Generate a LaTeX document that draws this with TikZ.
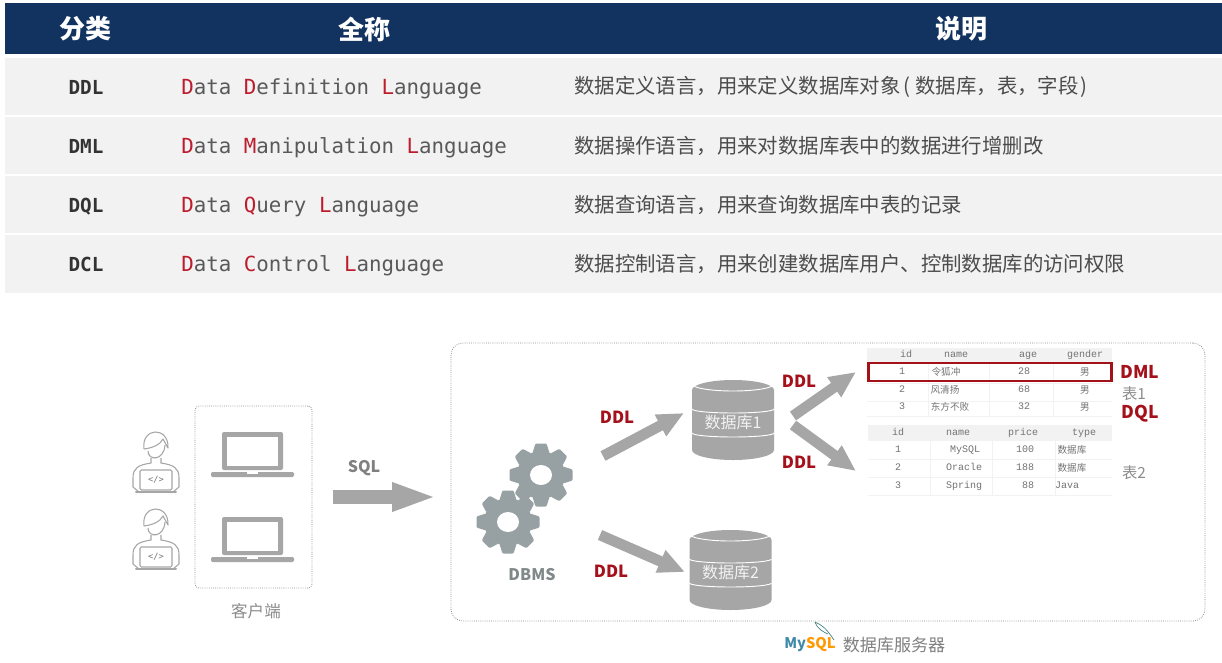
\documentclass[tikz,border=0pt]{standalone}
\usepackage{fontspec}
\usepackage{xcolor}
\usetikzlibrary{arrows.meta}
\setmainfont{Noto Sans CJK SC}
\newfontfamily\codefont{DejaVu Sans Mono}
\newfontfamily\tablefont{Liberation Mono}
\newcommand{\fsz}[1]{\fontsize{#1}{#1}\selectfont}
\newcommand{\rd}[1]{\textcolor{codered}{#1}}
\definecolor{navyhead}{HTML}{12335F}
\definecolor{rowgray}{HTML}{F2F2F2}
\definecolor{redtxt}{HTML}{A5111B}
\definecolor{codered}{HTML}{BC1C2C}
\definecolor{iconcol}{HTML}{A6A6A6}
\definecolor{gearcol}{HTML}{97A0A3}
\definecolor{dotcol}{HTML}{8C8C8C}
\tikzset{
  headtxt/.style={text=white,font=\fsz{19.5}\bfseries},
  codetxt/.style={anchor=base west,text=black!65,font=\fsz{15.6}\codefont},
  kindtxt/.style={anchor=base,text=black!80,font=\fsz{14.5}\codefont\bfseries},
  desctxt/.style={anchor=west,text=black!70,font=\fsz{15.3}},
  redlabel/.style={text=redtxt,font=\fsz{12.5}\bfseries},
  graytxt/.style={text=black!45,font=\fsz{12.4}},
  tcell/.style={text=black!55,font=\fsz{7.5}\tablefont,text height=5pt,text depth=1.5pt},
  tcjk/.style={text=black!55,font=\fsz{7.2},text height=5.5pt,text depth=1pt},
  dotbox/.style={draw=dotcol,densely dotted,line width=.6pt},
  bigarrow/.style={draw=iconcol,line width=8pt,-{Triangle[length=20pt,width=17pt]}},
  laptop/.pic={
    \fill[iconcol,rounded corners=1.5pt] (-31,-20) rectangle (30,18);
    \fill[white] (-26,-15) rectangle (25,14);
    \fill[iconcol,rounded corners=1pt] (-42,20) rectangle (41,25);
    \fill[white] (-6,20) rectangle (5,21.5);
  },
  person/.pic={
    \draw[iconcol,line width=.8pt,line join=round]
      (-12,3) .. controls (-15,-19) and (13,-20) .. (12,2) -- (7,-7) .. controls (4,-1) and (-4,2) .. (-12,3);
    \draw[iconcol,line width=.8pt] (-8,5) .. controls (-8,15) and (8,15) .. (9,-1);
    \draw[iconcol,line width=.8pt] (-5,12) -- (-5,17) .. controls (-18,19) and (-23,22) .. (-23,32) -- (-23,41) -- (-17,46);
    \draw[iconcol,line width=.8pt] (5,12) -- (5,17) .. controls (18,19) and (23,22) .. (23,32) -- (23,41) -- (17,46);
    \draw[iconcol,line width=.8pt,fill=white,rounded corners=1pt] (-16,24) rectangle (16,44);
    \draw[iconcol,line width=1.5pt,line cap=round] (-20,46) -- (20,46);
    \node[text=black!55,font=\fsz{6.5}\codefont] (-devcode) at (0,34) {</>};
  },
  gearicon/.pic={
    \fill[gearcol] (0,0) circle (24);
    \foreach \a in {0,45,...,315}
      \fill[gearcol,rotate=\a,rounded corners=.8pt] (-5.5,-31.5) -- (5.5,-31.5) -- (8.5,-22) -- (-8.5,-22) -- cycle;
    \fill[white] (0,0) ellipse (11 and 10);
  },
  dbcyl/.pic={
    \fill[iconcol] (-41,-30) -- (-41,30) arc[start angle=180,end angle=360,x radius=41,y radius=-10] -- (41,-30) arc[start angle=0,end angle=180,x radius=41,y radius=-10] -- cycle;
    \draw[white,line width=.7pt] (-41,-36) arc[start angle=180,end angle=360,x radius=41,y radius=-7];
    \foreach \yy in {-11,13}
      \draw[white,line width=.7pt] (-41,\yy) arc[start angle=180,end angle=360,x radius=41,y radius=-4];
    \node[text=white!90!gray,font=\fsz{12}] (-name) at (0,2) {#1};
  },
}
\begin{document}
\begin{tikzpicture}[x=.75pt,y=-.75pt,every node/.style={inner sep=0pt}]
  \useasboundingbox (0,0) rectangle (1222,662);
  \fill[white] (0,0) rectangle (1222,662);

  % table on top
  \fill[navyhead] (5,3) rectangle (1222,54);
  \node[headtxt] (kindhead) at (86,29) {分类};
  \node[headtxt] (namehead) at (364,29) {全称};
  \node[headtxt] (deschead) at (961,29) {说明};
  \foreach \top/\bot in {58/115,117/174,176/233,235/293}
    \fill[rowgray] (5,\top) rectangle (1222,\bot);

  \node[kindtxt] (ddl) at (86,94) {DDL};
  \node[kindtxt] (dml) at (86,153) {DML};
  \node[kindtxt] (dql) at (86,212) {DQL};
  \node[kindtxt] (dcl) at (86,271) {DCL};
  \node[codetxt] (ddlname) at (181,94) {\rd{D}ata \rd{D}efinition \rd{L}anguage};
  \node[codetxt] (dmlname) at (181,153) {\rd{D}ata \rd{M}anipulation \rd{L}anguage};
  \node[codetxt] (dqlname) at (181,212) {\rd{D}ata \rd{Q}uery \rd{L}anguage};
  \node[codetxt] (dclname) at (181,271) {\rd{D}ata \rd{C}ontrol \rd{L}anguage};
  \node[desctxt] (ddldesc) at (574,87) {数据定义语言，用来定义数据库对象\hspace{2.5pt}(\hspace{3.5pt}数据库，表，字段\hspace{1.5pt})};
  \node[desctxt] (dmldesc) at (574,146) {数据操作语言，用来对数据库表中的数据进行增删改};
  \node[desctxt] (dqldesc) at (574,205) {数据查询语言，用来查询数据库中表的记录};
  \node[desctxt] (dcldesc) at (574,264) {数据控制语言，用来创建数据库用户、控制数据库的访问权限};

  % client side
  \node[dotbox,rounded corners=3pt,minimum width=87.75pt,minimum height=136.5pt] (client) at (253.5,497) {};
  \pic (user1) at (156,446) {person};
  \pic (user2) at (156,523) {person};
  \pic (pc1) at (253,452) {laptop};
  \pic (pc2) at (253,537) {laptop};
  \node[graytxt] (clientname) at (256,611) {客户端};

  \coordinate (sqlfrom) at (333,497);
  \coordinate (sqlto) at (437,497);
  \draw[draw=iconcol,line width=10pt,-{Triangle[length=33.75pt,width=19.5pt]}] (sqlfrom) -- (sqlto);
  \node[text=black!50,font=\fsz{12}\bfseries] (sql) at (364,468) {SQL};

  % server side
  \node[dotbox,rounded corners=9pt,minimum width=565.5pt,minimum height=208.5pt] (server) at (828,482) {};
  \pic (gear1) at (541,475) {gearicon};
  \pic (gear2) at (508,522) {gearicon};
  \node[text=gearcol!85!black,font=\fsz{12}\bfseries] (dbms) at (532,575) {DBMS};
  \pic (db1) at (733,420) {dbcyl={数据库1}};
  \pic (db2) at (730.5,570) {dbcyl={数据库2}};

  \coordinate (a1) at (603,456);
  \coordinate (b1) at (684,413);
  \coordinate (a2) at (600,535);
  \coordinate (b2) at (685,572);
  \coordinate (a3) at (793,416);
  \coordinate (b3) at (856,372);
  \coordinate (a4) at (793,425);
  \coordinate (b4) at (856,471);
  \draw[bigarrow] (a1) -- (b1);
  \draw[bigarrow] (a2) -- (b2);
  \draw[bigarrow] (a3) -- (b3);
  \draw[bigarrow] (a4) -- (b4);
  \node[redlabel] (ddla) at (617,417) {DDL};
  \node[redlabel] (ddlb) at (611,571) {DDL};
  \node[redlabel] (ddlc) at (799,381) {DDL};
  \node[redlabel] (ddld) at (799,462) {DDL};

  % table 1
  \fill[rowgray] (867,348) rectangle (1112,362);
  \foreach \xx in {928,989,1053}
    \draw[rowgray,line width=.6pt] (\xx,348) -- (\xx,416);
  \foreach \yy in {383,401,416}
    \draw[rowgray,line width=.6pt] (867,\yy) -- (1112,\yy);
  \foreach \xx/\yy/\txt [count=\i] in {906/355/id,956/355/name,1028/355/age,1085/355/gender,
      902/372/1,1024/372/28,902/390/2,1024/390/68,902/407/3,1024/407/32}
    \node[tcell] (ta\i) at (\xx,\yy) {\txt};
  \foreach \xx/\yy/\txt [count=\i] in {946/372/令狐冲,1085/372/男,945/390/风清扬,1085/390/男,950/407/东方不败,1085/407/男}
    \node[tcjk] (tb\i) at (\xx,\yy) {\txt};
  \node[draw=redtxt,line width=1.9pt,minimum width=182pt,minimum height=13.5pt] (redrow) at (990,372) {};

  % table 2
  \fill[rowgray] (868,425) rectangle (1112,441);
  \foreach \xx in {930,992,1055}
    \draw[rowgray,line width=.6pt] (\xx,425) -- (\xx,495);
  \foreach \yy in {459,477,495}
    \draw[rowgray,line width=.6pt] (868,\yy) -- (1112,\yy);
  \foreach \xx/\yy/\txt [count=\i] in {898/433/id,958/433/name,1023/433/price,1084/433/type,
      898/450/1,965/450/MySQL,1025/450/100,898/468/2,964/468/Oracle,1025/468/188,
      898/486/3,964/486/Spring,1028/486/88,1067/486/Java}
    \node[tcell] (tc\i) at (\xx,\yy) {\txt};
  \node[tcjk] (td1) at (1072,450) {数据库};
  \node[tcjk] (td2) at (1072,468) {数据库};

  \node[redlabel,font=\fsz{13.2}\bfseries] (dmllabel) at (1140,372) {DML};
  \node[graytxt,font=\fsz{11.5}] (table1) at (1134,394) {表1};
  \node[redlabel,font=\fsz{13.2}\bfseries] (dqllabel) at (1140,414) {DQL};
  \node[graytxt,font=\fsz{11.5}] (table2) at (1134,473) {表2};

  % mysql mark
  \node[font=\fsz{11}\bfseries] (mysql) at (810,645) {\textcolor{cyan!50!teal!85!black}{My}\textcolor{orange!80!yellow}{SQL}};
  \draw[teal!50!gray,line width=.5pt] (815,622) .. controls (822,625) and (826,628) .. (834,640);
  \draw[teal!50!gray,line width=.5pt] (815,622) .. controls (818,630) and (824,632) .. (828,634);
  \node[text=black!50,font=\fsz{12.8}] (servername) at (894,645) {数据库服务器};
\end{tikzpicture}
\end{document}
